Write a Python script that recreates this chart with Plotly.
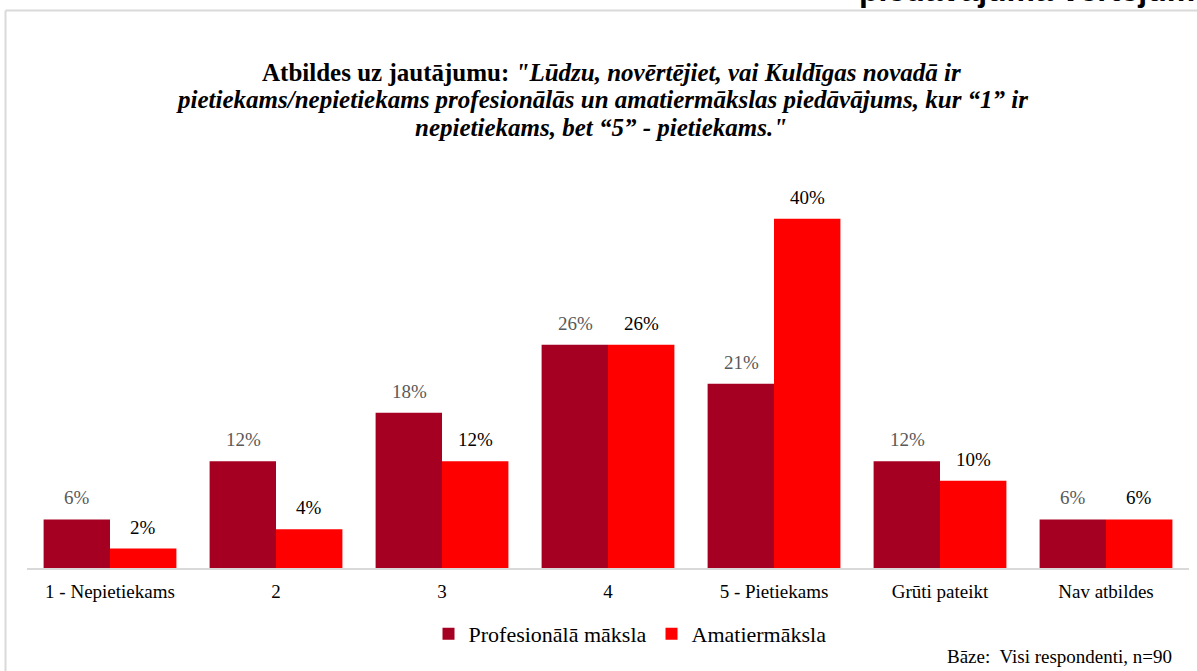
import plotly.graph_objects as go

categories = ["1 - Nepietiekams", "2", "3", "4", "5 - Pietiekams", "Grūti pateikt", "Nav atbildes"]
series_names = ["Profesionālā māksla", "Amatiermāksla"]
prof_values = [5/90, 11/90, 16/90, 23/90, 19/90, 11/90, 5/90]
amat_values = [2/90, 4/90, 11/90, 23/90, 36/90, 9/90, 5/90]
title_lines = [
    "<b>Atbildes uz jautājumu: <i>\"Lūdzu, novērtējiet, vai Kuldīgas novadā ir</i></b>",
    "<b><i>pietiekams/nepietiekams profesionālās un amatiermākslas piedāvājums, kur “1” ir</i></b>",
    "<b><i>nepietiekams, bet “5” - pietiekams.\"</i></b>",
]
prof_color = "#A50021"
amat_color = "#FF0000"

W, H = 1197, 671
L, R, T, B = 27, 8, 175, 103
PW, PH = W - L - R, H - T - B


def px(x):
    return (x - L) / PW


def py(y):
    return (H - B - y) / PH


fig = go.Figure()
fig.add_trace(go.Bar(x=categories, y=prof_values, name=series_names[0],
                     marker=dict(color=prof_color, line=dict(width=0))))
fig.add_trace(go.Bar(x=categories, y=amat_values, name=series_names[1],
                     marker=dict(color=amat_color, line=dict(width=0))))

serif = "Liberation Serif, Times New Roman, serif"
annotations = []
for vals, shift, col in [(prof_values, -33, "#595959"), (amat_values, 33, "#000000")]:
    for i, v in enumerate(vals):
        annotations.append(dict(x=i, y=v, xref="x", yref="y", xshift=shift, yshift=9,
                                text=f"{round(v*100)}%", showarrow=False, yanchor="bottom",
                                font=dict(family=serif, size=19, color=col)))

for txt, cx, cy in zip(title_lines, [611, 602, 601], [72, 99.5, 127]):
    annotations.append(dict(x=px(cx), y=py(cy), xref="paper", yref="paper", text=txt,
                            showarrow=False, xanchor="center", yanchor="middle",
                            font=dict(family=serif, size=25, color="#000000")))
annotations.append(dict(x=px(1174), y=py(656), xref="paper", yref="paper",
                        text="Bāze:  Visi respondenti, n=90", showarrow=False,
                        xanchor="right", yanchor="middle",
                        font=dict(family=serif, size=19, color="#000000")))
annotations.append(dict(x=px(857), y=py(10), xref="paper", yref="paper",
                        text="<b>piedāvājuma vērtējums</b>", showarrow=False,
                        xanchor="left", yanchor="bottom",
                        font=dict(family="Liberation Sans, Arial, sans-serif", size=32, color="#000000")))

shapes = [
    dict(type="line", xref="paper", yref="paper", x0=px(5.5), x1=px(1200), y0=py(10.5), y1=py(10.5),
         line=dict(color="#d9d9d9", width=2)),
    dict(type="line", xref="paper", yref="paper", x0=px(5.5), x1=px(5.5), y0=py(10.5), y1=py(680),
         line=dict(color="#d9d9d9", width=2)),
]

fig.update_layout(
    width=W, height=H,
    margin=dict(l=L, r=R, t=T, b=B, autoexpand=False),
    paper_bgcolor="white", plot_bgcolor="white",
    barmode="group", bargap=0.2, bargroupgap=0,
    showlegend=True,
    legend=dict(orientation="h", x=px(630), xanchor="center", y=py(634), yanchor="middle",
                font=dict(family=serif, size=22, color="#000000"), itemwidth=30,
                traceorder="normal", bgcolor="rgba(0,0,0,0)"),
    annotations=annotations, shapes=shapes,
    xaxis=dict(type="category", showline=True, linecolor="#d9d9d9", linewidth=1.5, showgrid=False,
               ticks="", ticklabelstandoff=5,
               tickfont=dict(family=serif, size=19, color="#000000"), fixedrange=True),
    yaxis=dict(range=[0, 0.45], visible=False, showgrid=False, zeroline=False, fixedrange=True),
)

fig.write_html("out.html", config={"displayModeBar": False},
               post_script="document.body.style.margin='0';document.body.style.overflow='hidden';")
